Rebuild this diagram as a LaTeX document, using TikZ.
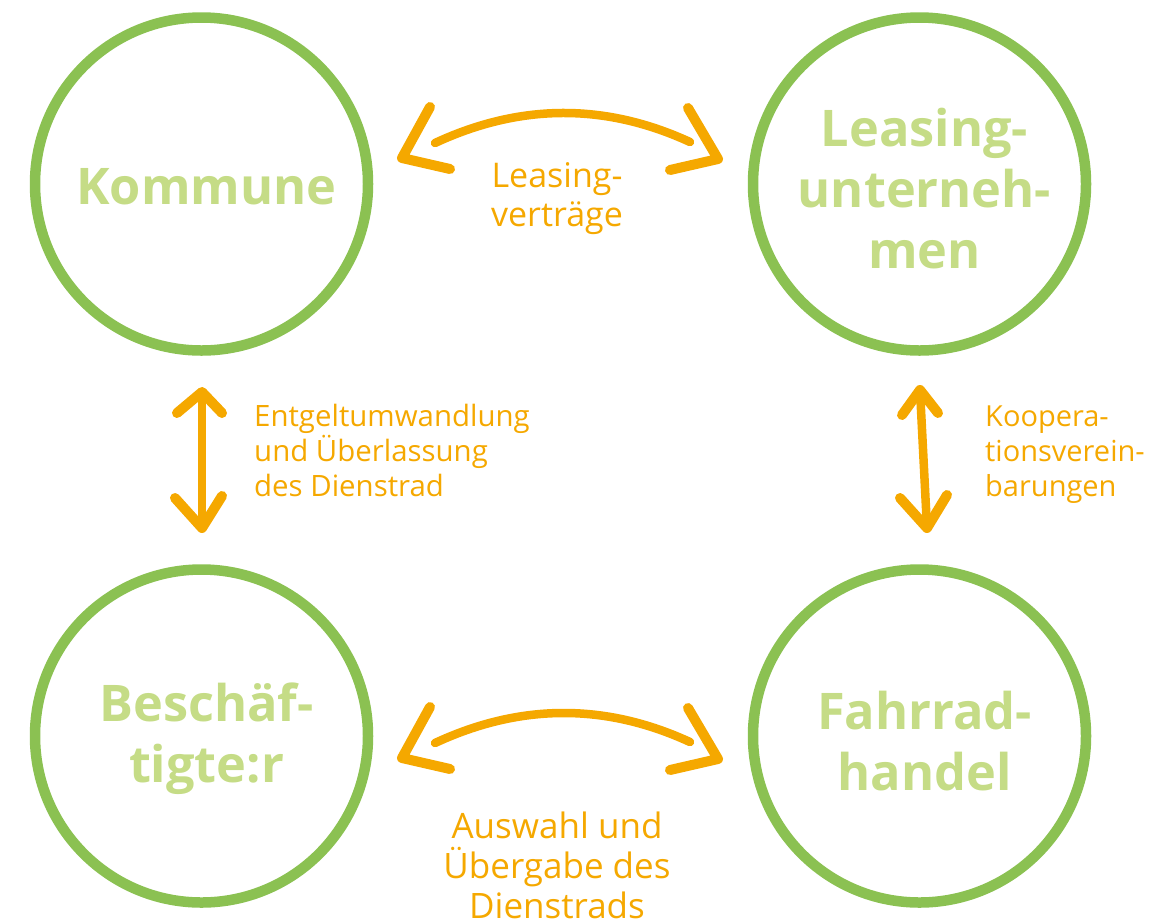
\documentclass[tikz,border=0pt]{standalone}
\usepackage{fontspec}
\setmainfont{Open Sans}
\definecolor{ringgreen}{RGB}{139,193,82}
\definecolor{textgreen}{RGB}{197,220,134}
\definecolor{arroworange}{RGB}{245,168,0}
\tikzset{
  party/.style={circle, draw=ringgreen, line width=10.5pt, inner sep=0pt,
    minimum size=333pt},
  partytext/.style={align=center, text=textgreen, inner sep=0pt,
    font=\fontsize{50.5}{61}\selectfont\bfseries},
  arcline/.style={draw=arroworange, line width=8.5pt, line cap=round, line join=round},
  chevron/.style={draw=arroworange, line width=10pt, line cap=round, line join=round},
  lbl/.style={text=arroworange, inner sep=0pt}
}
\begin{document}
\begin{tikzpicture}[x=1pt,y=-1pt]
\useasboundingbox (0,0) rectangle (1174,922);
% parties
\node[party] (kom) at (201.5,184) {};
\node[party] (lea) at (919.5,184) {};
\node[party] (bes) at (201.5,736) {};
\node[party] (fah) at (919.5,736) {};
\node[partytext] (komt) at ([shift={(5,3)}]kom.center) {Kommune};
\node[partytext] (leat) at ([shift={(5,5)}]lea.center) {Leasing-\\unterneh-\\men};
\node[partytext] (best) at ([shift={(5,3)}]bes.center) {Besch\"af-\\tigte:r};
\node[partytext] (faht) at ([shift={(5,5)}]fah.center) {Fahrrad-\\handel};
% top arrow
\coordinate (t1) at (435,143);
\coordinate (t2) at (690,142);
\coordinate (t1a) at (430,107); \coordinate (t1t) at (402,158); \coordinate (t1b) at (450,169);
\coordinate (t2a) at (688,108); \coordinate (t2t) at (718,159); \coordinate (t2b) at (670,170);
\draw[arcline] (t1) .. controls (520.3,103.3) and (605.3,103) .. (t2);
\draw[chevron] (t1a) -- (t1t) -- (t1b);
\draw[chevron] (t2a) -- (t2t) -- (t2b);
% bottom arrow
\coordinate (b1) at (435,743);
\coordinate (b2) at (690,742);
\coordinate (b1a) at (430,707); \coordinate (b1t) at (402,758); \coordinate (b1b) at (450,769);
\coordinate (b2a) at (688,708); \coordinate (b2t) at (718,759); \coordinate (b2b) at (670,770);
\draw[arcline] (b1) .. controls (520.3,703.3) and (605.3,703) .. (b2);
\draw[chevron] (b1a) -- (b1t) -- (b1b);
\draw[chevron] (b2a) -- (b2t) -- (b2b);
% left vertical arrow
\coordinate (l1) at (202,392); \coordinate (l2) at (202,528);
\coordinate (l1a) at (177,413); \coordinate (l1b) at (222,413);
\coordinate (l2a) at (175,498); \coordinate (l2b) at (222,496);
\draw[arcline] (l1) -- (l2);
\draw[chevron] (l1a) -- (l1) -- (l1b);
\draw[chevron] (l2a) -- (l2) -- (l2b);
% right vertical arrow
\coordinate (r1) at (920,390); \coordinate (r2) at (927,528);
\coordinate (r1a) at (902,415); \coordinate (r1b) at (938,413);
\coordinate (r2a) at (900,498); \coordinate (r2b) at (947,495);
\draw[arcline] (r1) -- (r2);
\draw[chevron] (r1a) -- (r1) -- (r1b);
\draw[chevron] (r2a) -- (r2) -- (r2b);
% labels
\node[lbl, align=center, font=\fontsize{34}{39}\selectfont] (ltop) at (557,199) {Leasing-\\vertr\"age};
\node[lbl, align=center, font=\fontsize{35}{40}\selectfont] (lbot) at (557,865) {Auswahl und\\\"Ubergabe des\\Dienstrads};
\node[lbl, align=left, anchor=west, font=\fontsize{29.4}{35}\selectfont] (lleft) at (254,450) {Entgeltumwandlung\\und \"Uberlassung\\des Dienstrad};
\node[lbl, align=left, anchor=west, font=\fontsize{29}{35}\selectfont] (lright) at (985,455) {Koopera-\\tionsverein-\\barungen};
\end{tikzpicture}
\end{document}
